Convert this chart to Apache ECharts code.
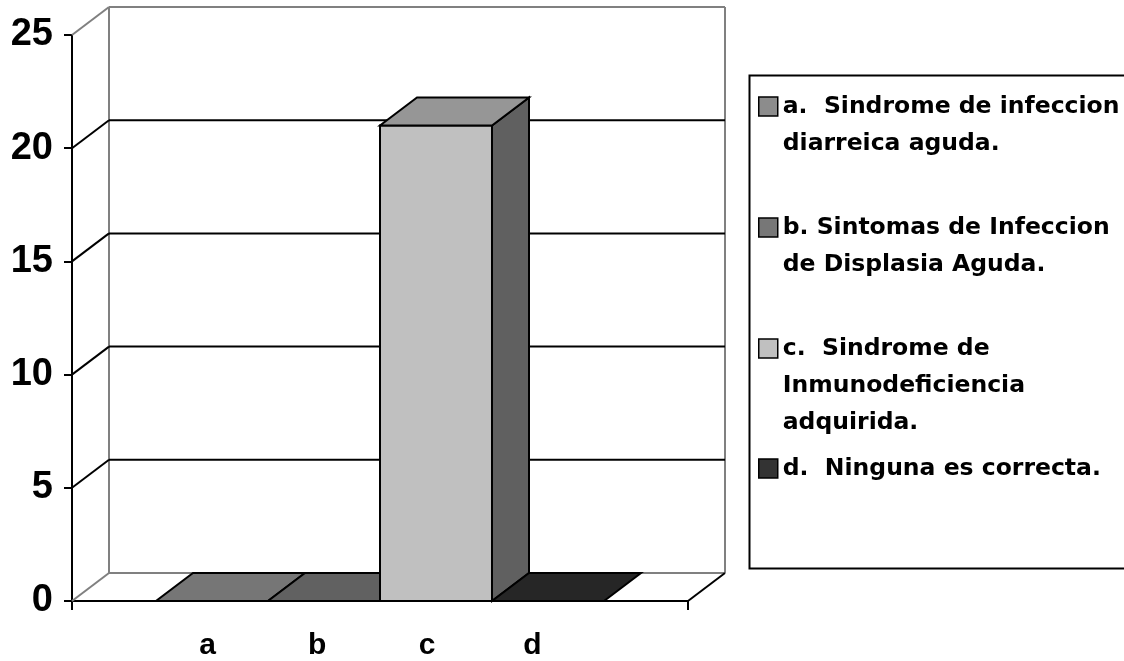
<!DOCTYPE html>
<html>
<head>
<meta charset="utf-8">
<script src="https://cdn.jsdelivr.net/npm/echarts@6/dist/echarts.min.js"></script>
<style>
  html, body { margin: 0; padding: 0; background: #ffffff; }
  #chart { width: 1124px; height: 661px; }
</style>
</head>
<body>
<div id="chart"></div>
<script>
// Answer options (category letters under the floor and legend entries)
const categories = ['a', 'b', 'c', 'd'];
const optionNames = [
  'a.  Sindrome de infeccion\ndiarreica aguda.',
  'b. Sintomas de Infeccion\nde Displasia Aguda.',
  'c.  Sindrome de\nInmunodeficiencia\nadquirida.',
  'd.  Ninguna es correcta.'
];
// Number of answers per option
const answerCounts = [0, 0, 21, 0];
// Value-axis tick values (gridlines on the back wall)
const yTicks = [0, 5, 10, 15, 20, 25];

// Shades for each box: front face, top face, right side face
const frontColors = ['#8c8c8c', '#777777', '#c0c0c0', '#333333'];
const topColors   = ['#767676', '#616161', '#969696', '#262626'];
const sideColors  = ['#5a5a5a', '#4a4a4a', '#606060', '#1a1a1a'];

// Pseudo-3D depth offset of the back wall, in pixels
const DX = 37, DY = -28;
const X_MIN = -0.75, X_MAX = 4.75;
const labelAt = [0.46, 1.44, 2.42, 3.36];
const legendIconY = [102, 223, 344, 464];

const chart = echarts.init(document.getElementById('chart'), null, { renderer: 'canvas' });

// Walls and gridlines drawn from the value-axis ticks
function renderFrame(params, api) {
  const v = api.value(0);
  const front = api.coord([X_MIN, v]);
  const right = api.coord([X_MAX, v]);
  const edge = (v === yTicks[0] || v === yTicks[yTicks.length - 1]);
  const col = edge ? '#808080' : '#000000';
  const children = [
    { type: 'line', shape: { x1: front[0], y1: front[1], x2: front[0] + DX, y2: front[1] + DY },
      style: { stroke: col, lineWidth: 2 } },
    { type: 'line', shape: { x1: front[0] + DX, y1: front[1] + DY, x2: right[0] + DX, y2: right[1] + DY },
      style: { stroke: col, lineWidth: 2 } }
  ];
  if (params.dataIndex === 0) {
    const topL = api.coord([X_MIN, yTicks[yTicks.length - 1]]);
    const topR = api.coord([X_MAX, yTicks[yTicks.length - 1]]);
    children.push(
      { type: 'line', shape: { x1: front[0] + DX, y1: front[1] + DY, x2: topL[0] + DX, y2: topL[1] + DY },
        style: { stroke: '#808080', lineWidth: 2 } },
      { type: 'line', shape: { x1: right[0] + DX, y1: right[1] + DY, x2: topR[0] + DX, y2: topR[1] + DY },
        style: { stroke: '#808080', lineWidth: 2 } },
      { type: 'line', shape: { x1: right[0], y1: right[1], x2: right[0] + DX, y2: right[1] + DY },
        style: { stroke: '#000000', lineWidth: 2 } }
    );
  }
  return { type: 'group', children };
}

// One box per option: front, top and side faces
function renderBox(params, api) {
  const i = api.value(0);
  const v = api.value(1);
  const p0 = api.coord([i, 0]);
  const p1 = api.coord([i + 1, v]);
  const x0 = p0[0], x1 = p1[0], yb = p0[1], yt = p1[1];
  const k = params.seriesIndex - 1;
  const stroke = { stroke: '#000000', lineWidth: 2, lineJoin: 'miter' };
  const children = [];
  if (yb - yt > 0.5) {
    children.push({ type: 'rect', shape: { x: x0, y: yt, width: x1 - x0, height: yb - yt },
      style: Object.assign({ fill: frontColors[k] }, stroke) });
    children.push({ type: 'polygon', shape: { points: [[x1, yt], [x1 + DX, yt + DY], [x1 + DX, yb + DY], [x1, yb]] },
      style: Object.assign({ fill: sideColors[k] }, stroke) });
  }
  children.push({ type: 'polygon', shape: { points: [[x0, yt], [x1, yt], [x1 + DX, yt + DY], [x0 + DX, yt + DY]] },
    style: Object.assign({ fill: topColors[k] }, stroke) });
  return { type: 'group', children };
}

const axisFont = 'Liberation Sans, Arial, sans-serif';
const legendFont = 'DejaVu Sans, sans-serif';
const LH = 37;

const series = [{
  type: 'custom',
  name: 'frame',
  renderItem: renderFrame,
  data: yTicks.map(v => [v]),
  encode: { y: 0 },
  silent: true,
  z: 1
}].concat(optionNames.map((name, i) => ({
  type: 'custom',
  name: name,
  renderItem: renderBox,
  itemStyle: { color: frontColors[i] },
  data: [[i, answerCounts[i]]],
  encode: { x: 0, y: 1 },
  z: 2 + i
})));

// Each entry gets its own legend so the swatch sits beside the first line;
// blank leading lines keep the first text line centred on the swatch.
const legends = optionNames.map((name, i) => {
  const extra = name.split('\n').length - 1;
  return {
    data: [name],
    orient: 'vertical',
    left: 758,
    top: legendIconY[i] - 14 - extra * LH,
    padding: 0,
    icon: 'rect',
    itemWidth: 19,
    itemHeight: 19,
    selectedMode: false,
    formatter: n => '\n'.repeat(extra) + n,
    itemStyle: { borderColor: '#000000', borderWidth: 1.5 },
    textStyle: {
      color: '#000000',
      fontFamily: legendFont,
      fontWeight: 'bold',
      fontSize: 23.5,
      lineHeight: LH
    }
  };
});

chart.setOption({
  backgroundColor: '#ffffff',
  animation: false,
  grid: { left: 72, right: 436, top: 35, bottom: 59, containLabel: false },
  xAxis: {
    type: 'value',
    min: X_MIN,
    max: X_MAX,
    splitLine: { show: false },
    axisLine: { show: true, onZero: false, lineStyle: { color: '#000000', width: 2 } },
    axisTick: { show: true, customValues: [X_MIN, X_MAX], length: 9, lineStyle: { color: '#000000', width: 2 } },
    axisLabel: {
      show: true,
      customValues: labelAt,
      formatter: v => categories[Math.floor(v)],
      margin: 30,
      color: '#000000',
      fontFamily: axisFont,
      fontWeight: 'bold',
      fontSize: 30
    }
  },
  yAxis: {
    type: 'value',
    min: 0,
    max: 25,
    interval: 5,
    splitLine: { show: false },
    axisLine: { show: true, onZero: false, lineStyle: { color: '#000000', width: 2 } },
    axisTick: { show: true, length: 8, lineStyle: { color: '#000000', width: 2 } },
    axisLabel: {
      margin: 19,
      color: '#000000',
      fontFamily: axisFont,
      fontWeight: 'bold',
      fontSize: 38
    }
  },
  legend: legends,
  graphic: [{
    type: 'rect',
    left: 747,
    top: 73,
    z: -1,
    shape: { width: 420, height: 493 },
    style: { fill: 'none', stroke: '#000000', lineWidth: 2 }
  }],
  series: series
});
</script>
</body>
</html>
